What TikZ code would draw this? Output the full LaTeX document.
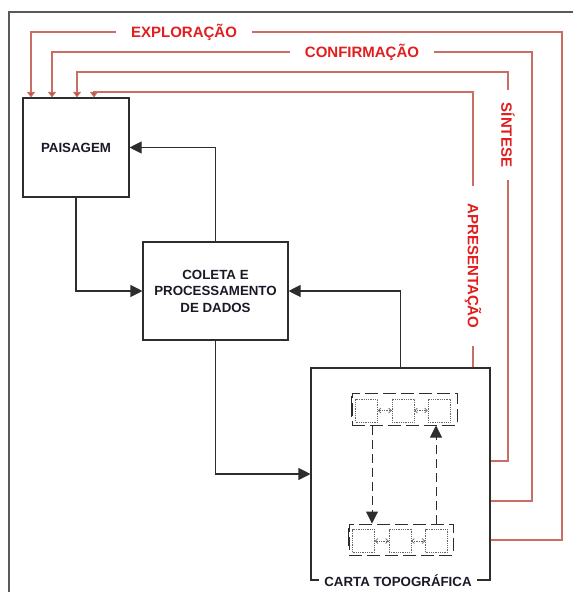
\documentclass[tikz,border=0pt]{standalone}
\usepackage{fontspec}
\setmainfont{Liberation Sans}
\usetikzlibrary{arrows.meta}
\definecolor{fbline}{RGB}{200,110,100}
\definecolor{fbtip}{RGB}{185,75,65}
\definecolor{fbtext}{RGB}{226,30,30}
\definecolor{boxline}{RGB}{45,45,45}
\definecolor{frameline}{RGB}{90,90,90}
\definecolor{boxtext}{RGB}{25,25,40}
\begin{document}
\begin{tikzpicture}[x=1pt,y=-1pt,
  box/.style={draw=boxline, line width=1.1pt, font=\bfseries\fontsize{13.3}{16.5}\selectfont, text=boxtext, align=center, inner sep=0pt},
  blk/.style={draw=boxline, line width=1.1pt, -{Triangle[length=12pt,width=12pt]}},
  fbl/.style={draw=fbline, line width=1.1pt, -{Triangle[length=5.5pt,width=8pt,fill=fbtip]}},
  fblabel/.style={fill=white, text=fbtext, font=\bfseries\fontsize{15}{18}\selectfont, inner xsep=15pt, inner ysep=2pt},
  grp/.style={draw=boxline, line width=1pt, dash pattern=on 13pt off 5pt, inner sep=0pt},
  sqbox/.style={draw=gray!80!black, densely dotted, line width=0.8pt, minimum width=22pt, minimum height=23pt, inner sep=0pt},
  dar/.style={draw=gray!80!black, densely dotted, line width=0.7pt, {Straight Barb[length=2.5pt,width=5pt]}-{Straight Barb[length=2.5pt,width=5pt]}},
  dblk/.style={draw=boxline, line width=1pt, dash pattern=on 9pt off 5pt, -{Triangle[length=12pt,width=12pt]}}
]
\useasboundingbox (0,0) rectangle (573,592);
% outer frame
\coordinate (fbl) at (9,592);
\coordinate (ftl) at (9,12);
\coordinate (ftr) at (573,12);
\draw[frameline, line width=1.4pt] (fbl) -- (ftl) -- (ftr);

% boxes
\node[box, minimum width=106pt, minimum height=99pt] (pais) at (76,147.5) {PAISAGEM};
\node[box, minimum width=145pt, minimum height=98pt] (col) at (215.5,291) {COLETA E\\PROCESSAMENTO\\DE DADOS};
\node[box, minimum width=179pt, minimum height=212pt] (carta) at (400.5,474) {};
\node[box, draw=none, fill=white, inner xsep=5pt, inner ysep=1pt] (ctitle) at (398,581) {CARTA TOPOGRÁFICA};

% black connectors
\draw[blk] (pais.south) |- (col.west);
\draw[blk] (col.north) |- (pais.east);
\draw[blk] (col.south) |- (carta.west);
\draw[blk] (carta.north) |- (col.east);

% feedback lines
\draw[fbl] (carta.east |- 0,540) -- (562,540) -- (562,32) -- (31,32) -- (31,0 |- pais.north);
\draw[fbl] (carta.east |- 0,501) -- (532,501) -- (532,52) -- (52,52) -- (52,0 |- pais.north);
\draw[fbl] (carta.east |- 0,461) -- (508,461) -- (508,72) -- (77,72) -- (77,0 |- pais.north);
\draw[fbl] (carta.north -| 473,0) -- (473,92) -- (94,92) -- (94,0 |- pais.north);

\node[fblabel] (expl) at (184,32) {EXPLORAÇÃO};
\node[fblabel] (conf) at (362,52) {CONFIRMAÇÃO};
\node[fblabel, rotate=-90, inner xsep=13pt] (sint) at (508,135) {SÍNTESE};
\node[fblabel, rotate=-90, inner xsep=18pt] (apre) at (473,266) {APRESENTAÇÃO};

% inner map schematic
\node[grp, minimum width=105pt, minimum height=32pt] (tg) at (404.5,409) {};
\draw[boxline, line width=1.4pt] (tg.north west) ++(0,3) -- ([yshift=-8pt]tg.west);
\node[sqbox] (t1) at (366.5,410.5) {};
\node[sqbox] (t2) at (403,410.5) {};
\node[sqbox] (t3) at (439,410.5) {};
\draw[dar] (t1.east) -- (t2.west);
\draw[dar] (t2.east) -- (t3.west);

\node[grp, minimum width=104pt, minimum height=31pt] (bg) at (401,539.5) {};
\draw[boxline, line width=1.4pt] (bg.north west) ++(0,4) -- ([yshift=-6pt]bg.west);
\node[sqbox] (b1) at (363.5,541) {};
\node[sqbox] (b2) at (400,541) {};
\node[sqbox] (b3) at (436.5,541) {};
\draw[dar] (b1.east) -- (b2.west);
\draw[dar] (b2.east) -- (b3.west);

\draw[dblk] (tg.south -| 372,0) -- (bg.north -| 372,0);
\draw[dblk] (bg.north -| 436,0) -- (tg.south -| 436,0);
\end{tikzpicture}
\end{document}
